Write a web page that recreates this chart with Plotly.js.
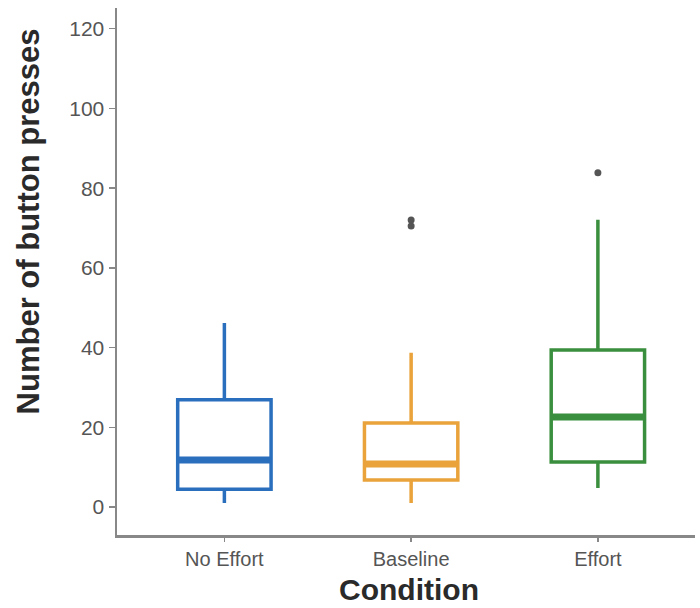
<!DOCTYPE html>
<html>
<head>
<meta charset="utf-8">
<script src="https://cdn.plot.ly/plotly-3.0.1.min.js"></script>
<style>html,body{margin:0;padding:0;background:#fff;}#chart{width:700px;height:608px;}</style>
</head>
<body>
<div id="chart"></div>
<script>
var categories = ["No Effort", "Baseline", "Effort"];
var colors = ["#2a6fbd", "#e9a33a", "#3a8f3e"];
var lowerWhisker = [1, 1, 4.8];
var q1Values = [4.5, 6.8, 11.3];
var medianValues = [11.8, 10.8, 22.6];
var q3Values = [26.9, 21.1, 39.4];
var upperWhisker = [46.2, 38.7, 72.1];
var outlierX = ["Baseline", "Baseline", "Effort"];
var outlierY = [70.5, 72.0, 83.9];
var yTicks = [0, 20, 40, 60, 80, 100, 120];

var traces = [];
var shapes = [];
for (var i = 0; i < categories.length; i++) {
  traces.push({
    type: "box",
    x: [categories[i]],
    q1: [q1Values[i]],
    median: [medianValues[i]],
    q3: [q3Values[i]],
    lowerfence: [lowerWhisker[i]],
    upperfence: [upperWhisker[i]],
    width: 0.5,
    line: {color: colors[i], width: 3.5},
    fillcolor: "rgba(255,255,255,0)",
    whiskerwidth: 0,
    showlegend: false,
    hoverinfo: "skip"
  });
  shapes.push({
    type: "line", xref: "x", yref: "y",
    x0: i - 0.25, x1: i + 0.25,
    y0: medianValues[i], y1: medianValues[i],
    line: {color: colors[i], width: 7}
  });
}
traces.push({
  type: "scatter", mode: "markers",
  x: outlierX, y: outlierY,
  marker: {color: "#555555", size: 7, symbol: "circle"},
  showlegend: false, hoverinfo: "skip"
});

var layout = {
  width: 700, height: 608,
  margin: {l: 117, r: 5, t: 8, b: 73},
  paper_bgcolor: "#ffffff",
  plot_bgcolor: "#ffffff",
  font: {family: "Liberation Sans, Arial, sans-serif", color: "#555"},
  shapes: shapes,
  xaxis: {
    type: "category",
    categoryorder: "array",
    categoryarray: categories,
    range: [-0.575, 2.52],
    showgrid: false, zeroline: false,
    showline: true, linecolor: "#888", linewidth: 2.5,
    ticks: "outside", ticklen: 4, tickcolor: "#888", tickwidth: 1.5,
    tickfont: {size: 20, color: "#555"}
  },
  yaxis: {
    range: [-7, 125.2],
    tickvals: yTicks,
    ticktext: yTicks.map(String),
    showgrid: false, zeroline: false,
    showline: true, linecolor: "#888", linewidth: 2.5,
    ticks: "outside", ticklen: 6, tickcolor: "#888", tickwidth: 1.5,
    tickfont: {size: 21, color: "#555"}
  },
  annotations: [{
    text: "<b>Number of button presses</b>",
    xref: "paper", yref: "paper",
    x: -0.154, y: 0.595,
    xanchor: "center", yanchor: "middle",
    textangle: -90, showarrow: false,
    font: {size: 31, color: "#2a2a2a"}
  }, {
    text: "<b>Condition</b>",
    xref: "paper", yref: "paper",
    x: 0.505, y: -0.104,
    xanchor: "center", yanchor: "middle",
    showarrow: false,
    font: {size: 30, color: "#2a2a2a"}
  }]
};

Plotly.newPlot("chart", traces, layout, {staticPlot: true, displayModeBar: false});
</script>
</body>
</html>
